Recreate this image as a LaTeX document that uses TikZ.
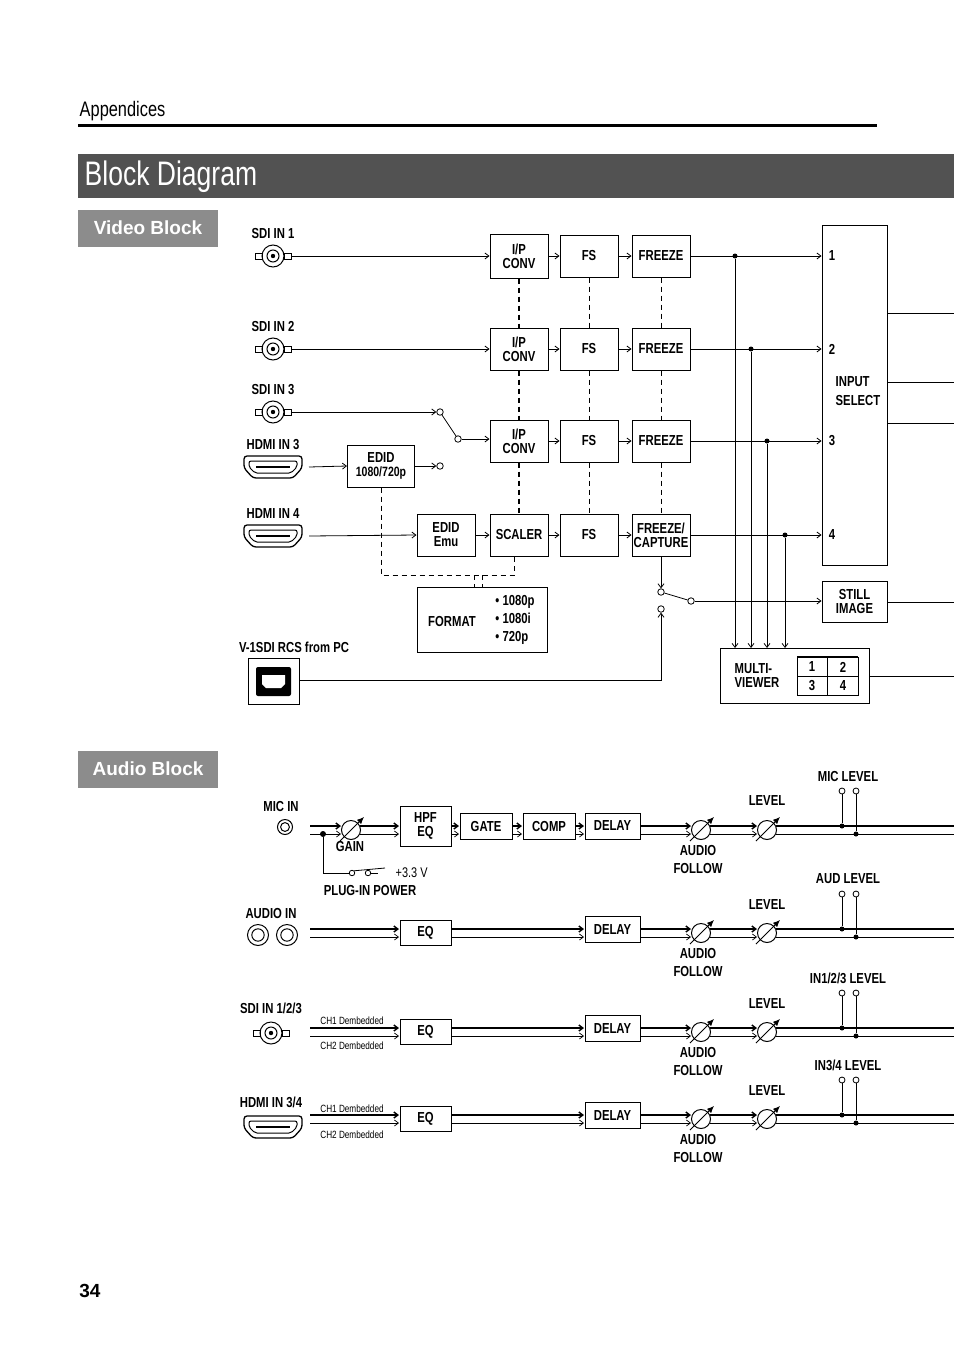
\documentclass[tikz,border=0pt]{standalone}
\usepackage{fontspec}
\usetikzlibrary{arrows.meta}
\setmainfont{Liberation Sans}
\newfontfamily\cond{Liberation Sans}[FakeStretch=0.78]
\newcommand{\lab}{\cond\bfseries\fontsize{14.5}{14}\selectfont}
\newcommand{\sml}{\cond\fontsize{10.5}{11}\selectfont}
% input connectors
\newcommand{\bnc}[3]{%
  \draw[line width=1pt] (#2-18,#3-3) rectangle (#2-11,#3+3) (#2+11,#3-3) rectangle (#2+18,#3+3);
  \node[circle,draw,line width=1pt,minimum size=22,inner sep=0] (#1) at (#2,#3) {};
  \draw[line width=1pt] (#2,#3) circle (6);
  \fill (#2,#3) circle (2.2);}
\newcommand{\hdmi}[3]{%
  \coordinate (#1) at (#2,#3);
  \draw[line width=1.3pt,rounded corners=3] (#2-29,#3-11) -- (#2+29,#3-11) -- (#2+29,#3+1)
    -- (#2+20,#3+11) -- (#2-20,#3+11) -- (#2-29,#3+1) -- cycle;
  \draw[line width=1pt,rounded corners=2] (#2-24,#3-6) -- (#2+24,#3-6) -- (#2+24,#3)
    -- (#2+18,#3+6) -- (#2-18,#3+6) -- (#2-24,#3) -- cycle;
  \draw[line width=1.2pt] (#2-17,#3) -- (#2+17,#3);}
\newcommand{\jack}[3]{%
  \node[circle,draw,line width=1pt,minimum size=#3,inner sep=0] at (#1,#2) {};
  \draw[line width=1pt] (#1,#2) circle (#3/3.4);}
\newcommand{\knob}[3]{%
  \node[circle,draw,line width=1pt,minimum size=19,inner sep=0] (#1) at (#2,#3) {};
  \draw[line width=0.8pt,-{Latex[length=7pt,width=6pt]}] (#2-11,#3+11) -- (#2+13,#3-13);}
\newcommand{\dbl}[3]{%
  \draw[line width=1.4pt,arr] (#1,#3) -- (#2,#3);
  \draw[line width=0.7pt,arr] (#1,#3+8) -- (#2,#3+8);}
\begin{document}
\begin{tikzpicture}[x=1pt,y=-1pt,line width=0.8pt,
    blk/.style={draw,line width=1pt,inner sep=0,align=center,font=\lab},
    arr/.style={-{Straight Barb[length=4pt,width=6pt]}},
    sw/.style={circle,draw,fill=white,inner sep=0,minimum size=6.5,line width=0.8pt},
    dot/.style={circle,fill=black,inner sep=0,minimum size=5},
    lbl/.style={font=\lab,align=center,inner sep=0},
    sect/.style={fill=black!45,text=white,font=\bfseries\fontsize{19}{19}\selectfont,
        minimum width=140,minimum height=37,inner sep=0},
    fdash/.style={dash pattern=on 5pt off 4pt,line width=0.7pt}]
\useasboundingbox (0,0) rectangle (954,1354);
% header
\node[anchor=west,font=\cond\fontsize{21}{21}\selectfont] (app) at (76,111) {Appendices};
\draw[line width=3pt] (78,125) -- (877,125);
\fill[black!68] (78,154) rectangle (954,198);
\node[anchor=west,text=white,font=\cond\fontsize{34}{34}\selectfont] (title) at (81,177) {Block Diagram};
\node[sect] (vb) at (148,228) {Video Block};
\node[sect] (ab) at (148,769) {Audio Block};
\node[font=\bfseries\fontsize{19}{19}\selectfont] (pg) at (90,1291) {34};

% ---- video inputs
\node[lbl] at (273,234) {SDI IN 1}; \bnc{sdi1}{273}{256}
\node[lbl] at (273,327) {SDI IN 2}; \bnc{sdi2}{273}{349}
\node[lbl] at (273,390) {SDI IN 3}; \bnc{sdi3}{273}{412}
\node[lbl] at (273,445) {HDMI IN 3}; \hdmi{hd3}{273}{467}
\node[lbl] at (273,514) {HDMI IN 4}; \hdmi{hd4}{273}{536}
\node[lbl] at (294,647) {V-1SDI RCS from PC};
\draw[line width=1pt] (248,658) rectangle (299,704);
\fill[rounded corners=2] (256,667) rectangle (291,696);
\fill[white] (262,675) -- (285,675) -- (285,684) -- (281,688) -- (266,688) -- (262,684) -- cycle;
\coordinate (usb) at (299,680);

% processing columns
\node[blk,minimum width=58,minimum height=44] (ip1) at (519,256) {I/P\\CONV};
\node[blk,minimum width=58,minimum height=42] (ip2) at (519,349) {I/P\\CONV};
\node[blk,minimum width=58,minimum height=42] (ip3) at (519,441) {I/P\\CONV};
\node[blk,minimum width=58,minimum height=42] (scl) at (519,535) {SCALER};
\foreach \r/\y in {1/256,2/349,3/441,4/535}
  \node[blk,minimum width=58,minimum height=42] (fs\r) at (589,\y) {FS};
\foreach \r/\y in {1/256,2/349,3/441}
  \node[blk,minimum width=58,minimum height=42] (fz\r) at (661,\y) {FREEZE};
\node[blk,minimum width=58,minimum height=42] (fz4) at (661,535) {FREEZE/\\CAPTURE};
\node[blk,minimum width=58,minimum height=42] (emu) at (446,535) {EDID\\Emu};
\node[blk,minimum width=67,minimum height=42] (ed3) at (381,466) {EDID\\{\fontsize{13.5}{13}\selectfont 1080/720p}};
\node[draw,line width=1pt,minimum width=130,minimum height=65,inner sep=0] (fmt) at (482,620) {};
\node[lbl] at (452,622) {FORMAT};
\node[lbl,align=left] at (515,620) {\textbullet\ 1080p\\[4pt]\textbullet\ 1080i\\[4pt]\textbullet\ 720p};
\node[draw,line width=1pt,minimum width=65,minimum height=340,inner sep=0] (insel) at (854.5,395) {};
\node[lbl,align=left] at (858,391) {INPUT\\[5pt]SELECT};
\foreach \n/\y in {1/256,2/349,3/441,4/535}
  \node[lbl] (in\n) at (832,\y) {\n};
\node[blk,minimum width=65,minimum height=41] (still) at (854.5,602) {STILL\\IMAGE};
\node[draw,line width=1pt,minimum width=149,minimum height=55,inner sep=0] (mv) at (794.5,676) {};
\node[lbl,align=left] at (757,676) {MULTI-\\VIEWER};
\draw[line width=0.8pt] (797,657) rectangle (858,695) (827.5,657) -- (827.5,695) (797,676) -- (858,676);
\draw[line width=2pt] (797,657) -- (858,657);
\node[lbl] at (812,667) {1}; \node[lbl] at (843,667) {2};
\node[lbl] at (812,686) {3}; \node[lbl] at (843,686) {4};

% video connectors
\draw[arr] (sdi1.east) ++(7,0) -- (ip1.west);
\draw[arr] (sdi2.east) ++(7,0) -- (ip2.west);
\node[sw] (s3a) at (440,412) {};
\node[sw] (s3b) at (458,439) {};
\node[sw] (s3c) at (440,466) {};
\draw[arr] (sdi3.east) ++(7,0) -- (s3a.west);
\draw (s3a) -- (s3b);
\draw[arr] (s3b.east) -- (ip3.west |- s3b.east);
\draw[arr] (hd3) ++(36,0) -- (ed3.west);
\draw[arr] (ed3.east) -- (s3c.west);
\draw[arr] (hd4) ++(36,0) -- (emu.west);
\draw[arr] (emu.east) -- (scl.west);
\foreach \r in {1,2,3} \draw[arr] (ip\r.east) -- (fs\r.west);
\draw[arr] (scl.east) -- (fs4.west);
\foreach \r in {1,2,3,4} {
  \draw[arr] (fs\r.east) -- (fz\r.west);
  \draw[arr] (fz\r.east) -- (insel.west |- fz\r.east);}
\draw[line width=1.6pt,dash pattern=on 5pt off 4pt] (ip1.south) -- (ip2.north) (ip2.south) -- (ip3.north) (ip3.south) -- (scl.north);
\draw[fdash] (fs1.south) -- (fs2.north) (fs2.south) -- (fs3.north) (fs3.south) -- (fs4.north);
\draw[fdash] (fz1.south) -- (fz2.north) (fz2.south) -- (fz3.north);
\draw[fdash] (fz3.south) -- (fz4.north);
\draw[fdash] (ed3.south) -- (381,575) -- (514,575) -- (scl.south -| 514,0);
\draw[fdash] (474,575) -- (474,588) (482,575) -- (482,588);
\foreach \x/\r in {735/1,751/2,767/3,785/4} {
  \node[dot] (j\r) at (\x,0 |- fz\r.east) {};
  \draw[arr] (j\r) -- (\x,648);}
\node[sw] (cpa) at (661,592) {};
\node[sw] (cpb) at (661,609) {};
\node[sw] (cpc) at (691,601) {};
\draw[arr] (fz4.south) -- (cpa.north);
\draw (cpa) -- (cpc);
\draw[arr] (cpc.east) -- (still.west |- cpc.east);
\draw[arr] (usb) -- (661,680) -- (cpb.south);
\draw (887,313) -- (954,313) (887,382) -- (954,382) (887,423) -- (954,423);
\draw (still.east) -- (954,602);
\draw (mv.east) -- (954,676);

% ---- audio block
\node[lbl] at (281,806) {MIC IN}; \jack{285}{827}{15}
\node[lbl] at (271,913) {AUDIO IN}; \jack{258}{935}{21} \jack{287}{935}{21}
\node[lbl] at (271,1008) {SDI IN 1/2/3}; \bnc{sdi4}{271}{1033}
\node[lbl] at (271,1102) {HDMI IN 3/4}; \hdmi{hd5}{273}{1127}
\node[font=\sml] at (352,1021) {CH1 Dembedded};
\node[font=\sml] at (352,1046) {CH2 Dembedded};
\node[font=\sml] at (352,1109) {CH1 Dembedded};
\node[font=\sml] at (352,1135) {CH2 Dembedded};

\knob{gain}{351}{830}
\node[lbl] at (350,846) {GAIN};
\node[blk,minimum width=51,minimum height=40] (hpf) at (425.5,826) {HPF\\EQ};
\node[blk,minimum width=52,minimum height=26] (gate) at (486,826) {GATE};
\node[blk,minimum width=52,minimum height=26] (comp) at (549,826) {COMP};
\dbl{310}{341}{826}
\dbl{360}{399}{826}
\dbl{451}{459}{826}
\dbl{512}{522}{826}
\dbl{575}{584}{826}
\node[dot,minimum size=6] (mj) at (323,834) {};
\node[sw,minimum size=5.5] (pa) at (352,873) {};
\node[sw,minimum size=5.5] (pb) at (368,873) {};
\draw (mj) -- (323,873) -- (pa.west);
\draw (pa.north east) -- (385,868);
\draw (pb.east) -- (378,873);
\node[anchor=west,font=\cond\fontsize{14}{14}\selectfont] at (392,873) {+3.3 V};
\node[lbl] at (370,890) {PLUG-IN POWER};

\foreach \y/\e in {929/b,1028/c,1115/d} {
  \node[blk,minimum width=51,minimum height=25] (eq\e) at (425.5,\y+4) {EQ};
  \dbl{310}{399}{\y}
  \dbl{451}{584}{\y}}

\foreach \y/\e/\lv in {826/a/{MIC LEVEL},929/b/{AUD LEVEL},1028/c/{IN1/2/3 LEVEL},1115/d/{IN3/4 LEVEL}} {
  \node[blk,minimum width=55,minimum height=26] (dl\e) at (612.5,\y) {DELAY};
  \knob{af\e}{701}{\y+4}
  \knob{lv\e}{767}{\y+4}
  \dbl{640}{691}{\y}
  \dbl{710}{757}{\y}
  \draw[line width=1.4pt] (776,\y) -- (954,\y);
  \draw[line width=0.7pt] (776,\y+8) -- (954,\y+8);
  \node[dot] (la\e) at (842,\y) {};
  \node[dot] (lb\e) at (856,\y+8) {};
  \node[sw,minimum size=6] (ca\e) at (842,\y-35) {};
  \node[sw,minimum size=6] (cb\e) at (856,\y-35) {};
  \draw (la\e) -- (ca\e.south) (lb\e) -- (cb\e.south);
  \node[lbl] at (767,\y-25) {LEVEL};
  \node[lbl] at (848,\y-50) {\lv};
  \node[lbl] at (698,\y+33) {AUDIO\\[4pt]FOLLOW};}
\end{tikzpicture}
\end{document}
